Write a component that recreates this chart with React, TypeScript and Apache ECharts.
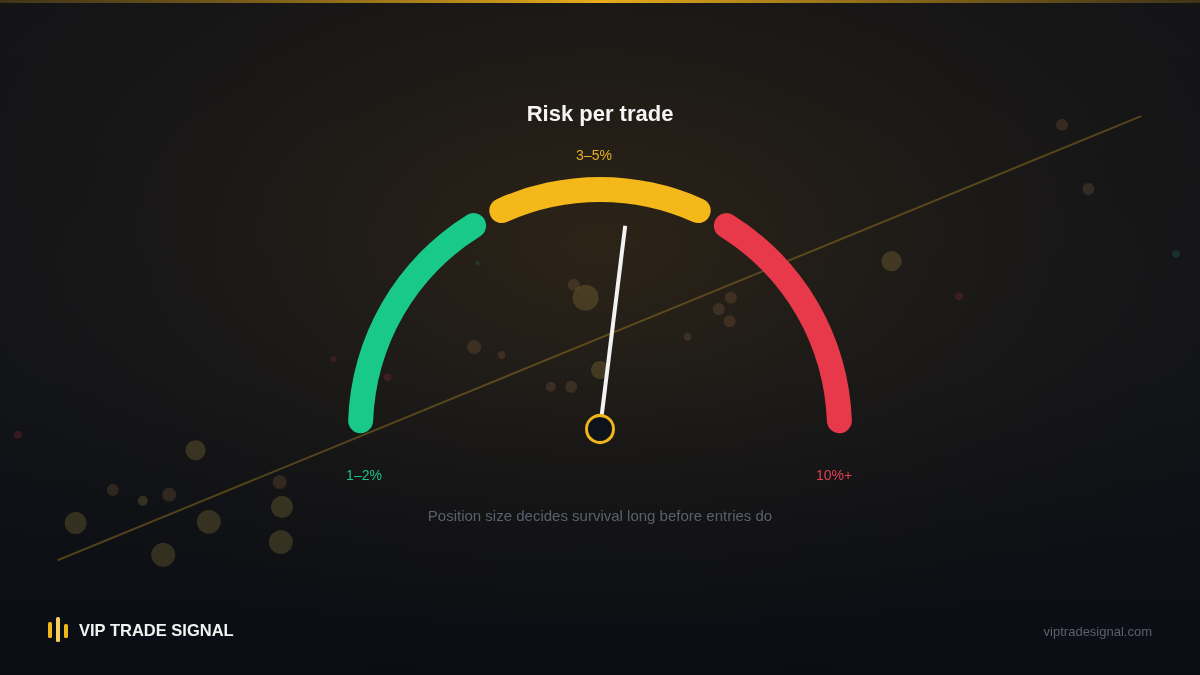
import React, { useEffect, useRef } from 'react';
import * as echarts from 'echarts';

// gauge zones on a 0-100 risk scale
const zoneLabels = ['1–2%', '3–5%', '10%+'];
const zoneFrom = [0, 36.25, 68.1];
const zoneTo = [31.9, 63.75, 100];
const zoneColors = ['#19c98a', '#f4b81a', '#e8394a'];
const needleValue = 54;

// decorative scatter behind the gauge: [x %, y %, radius]
const goldDots = [
    [16.3, 33.3, 10], [6.3, 22.5, 11], [17.4, 22.7, 12], [13.6, 17.8, 12],
    [23.5, 24.9, 11], [23.4, 19.7, 12], [11.9, 25.8, 5], [48.8, 55.9, 13],
    [50, 45.2, 9], [74.3, 61.3, 10]
];
const brownDots = [
    [9.4, 27.4, 6], [14.1, 26.7, 7], [23.3, 28.6, 7], [47.8, 57.8, 6],
    [39.5, 48.6, 7], [41.8, 47.4, 4], [45.9, 42.7, 5], [47.6, 42.7, 6],
    [60.9, 55.9, 6], [59.9, 54.2, 6], [60.8, 52.4, 6], [57.3, 50.1, 4],
    [88.5, 81.5, 6], [90.7, 72.0, 6]
];
const redDots = [[32.3, 44.1, 4], [27.8, 46.8, 3], [79.9, 56.1, 4], [1.5, 35.6, 4]];
const greenDots = [[39.8, 61.0, 2], [98, 62.4, 4]];
const trendLine = [[4.8, 17.0], [95.1, 82.8]];

const FONT = '"Liberation Sans", Arial, Helvetica, sans-serif';

const App: React.FC = () => {
    const chartRef = useRef<HTMLDivElement>(null);

    useEffect(() => {
        if (!chartRef.current) return;
        const myChart = echarts.init(chartRef.current, null, { renderer: 'svg' });

        const stops: [number, string][] = [];
        zoneFrom.forEach((f, i) => {
            if (f > 0) stops.push([f / 100, 'transparent']);
            stops.push([zoneTo[i] / 100, zoneColors[i]]);
        });

        const dotSeries = (data: number[][], color: string) => ({
            type: 'scatter',
            data,
            symbolSize: (v: number[]) => v[2] * 2,
            itemStyle: { color },
            silent: true,
            z: 1
        });

        const option: any = {
            animation: false,
            grid: { left: 0, right: 0, top: 0, bottom: 0 },
            xAxis: { type: 'value', min: 0, max: 100, show: false },
            yAxis: { type: 'value', min: 0, max: 100, show: false },
            graphic: [
                {
                    type: 'rect', z: -100, silent: true,
                    shape: { x: 0, y: 0, width: 1200, height: 675 },
                    style: {
                        fill: new echarts.graphic.LinearGradient(0, 0, 0, 1, [
                            { offset: 0, color: '#141417' },
                            { offset: 0.55, color: '#121419' },
                            { offset: 1, color: '#0a0d13' }
                        ])
                    }
                },
                {
                    type: 'rect', z: -99, silent: true,
                    shape: { x: 0, y: 0, width: 1200, height: 675 },
                    style: {
                        fill: new echarts.graphic.RadialGradient(0.5, 0.36, 0.75, [
                            { offset: 0, color: 'rgba(84,60,22,0.4)' },
                            { offset: 0.5, color: 'rgba(60,44,18,0.15)' },
                            { offset: 1, color: 'rgba(0,0,0,0)' }
                        ])
                    }
                },
                {
                    type: 'rect', z: 50, silent: true,
                    shape: { x: 0, y: 0, width: 1200, height: 3 },
                    style: {
                        fill: new echarts.graphic.LinearGradient(0, 0, 1, 0, [
                            { offset: 0, color: 'rgba(110,85,25,0.5)' },
                            { offset: 0.5, color: '#e9ad1c' },
                            { offset: 1, color: 'rgba(110,85,25,0.5)' }
                        ])
                    }
                },
                {
                    type: 'text', z: 50, x: 600, y: 113,
                    style: { text: 'Risk per trade', fill: '#f5f5f5', font: `bold 22px ${FONT}`, align: 'center', verticalAlign: 'middle' }
                },
                {
                    type: 'text', z: 50, x: 594, y: 155,
                    style: { text: zoneLabels[1], fill: '#e6b022', font: `14px ${FONT}`, align: 'center', verticalAlign: 'middle' }
                },
                {
                    type: 'text', z: 50, x: 364, y: 475,
                    style: { text: zoneLabels[0], fill: '#1fbf85', font: `14px ${FONT}`, align: 'center', verticalAlign: 'middle' }
                },
                {
                    type: 'text', z: 50, x: 834, y: 475,
                    style: { text: zoneLabels[2], fill: '#e0404f', font: `14px ${FONT}`, align: 'center', verticalAlign: 'middle' }
                },
                {
                    type: 'text', z: 50, x: 600, y: 515,
                    style: { text: 'Position size decides survival long before entries do', fill: '#5b616c', font: `15px ${FONT}`, align: 'center', verticalAlign: 'middle' }
                },
                // logo
                { type: 'rect', z: 50, shape: { x: 48, y: 622, width: 4, height: 16, r: 1.5 }, style: { fill: '#f2b61a' } },
                { type: 'rect', z: 50, shape: { x: 56, y: 617, width: 4, height: 25, r: 1.5 }, style: { fill: '#f6cf62' } },
                { type: 'rect', z: 50, shape: { x: 64, y: 624, width: 4, height: 14, r: 1.5 }, style: { fill: '#f2b61a' } },
                {
                    type: 'text', z: 50, x: 79, y: 630,
                    style: { text: 'VIP TRADE SIGNAL', fill: '#f2f2f2', font: `bold 16.5px ${FONT}`, align: 'left', verticalAlign: 'middle' }
                },
                {
                    type: 'text', z: 50, x: 1152, y: 631,
                    style: { text: 'viptradesignal.com', fill: '#5a606c', font: `13px ${FONT}`, align: 'right', verticalAlign: 'middle' }
                }
            ],
            series: [
                {
                    type: 'line',
                    data: trendLine,
                    symbol: 'none',
                    silent: true,
                    lineStyle: { color: 'rgba(170,135,35,0.42)', width: 2 },
                    z: 1
                },
                dotSeries(goldDots, 'rgba(190,160,75,0.28)'),
                dotSeries(brownDots, 'rgba(150,110,70,0.3)'),
                dotSeries(redDots, 'rgba(170,50,60,0.3)'),
                dotSeries(greenDots, 'rgba(40,160,120,0.25)'),
                {
                    type: 'gauge',
                    center: [600, 429],
                    radius: 252,
                    startAngle: 178,
                    endAngle: 2,
                    min: 0,
                    max: 100,
                    axisLine: { roundCap: true, lineStyle: { width: 25, color: stops } },
                    splitLine: { show: false },
                    axisTick: { show: false },
                    axisLabel: { show: false },
                    pointer: { icon: 'rect', length: 205, width: 4, itemStyle: { color: '#f2f2f2' } },
                    anchor: {
                        show: true, showAbove: true, size: 27,
                        itemStyle: { color: '#0e131b', borderColor: '#f0b41c', borderWidth: 3 }
                    },
                    title: { show: false },
                    detail: { show: false },
                    data: [{ value: needleValue }],
                    z: 10
                }
            ]
        };
        myChart.setOption(option);

        return () => {
            myChart.dispose();
        };
    }, []);

    return (
        <div
            ref={chartRef}
            style={{ position: 'fixed', left: 0, top: 0, width: '1200px', height: '675px' }}
        />
    );
};

export default App;
